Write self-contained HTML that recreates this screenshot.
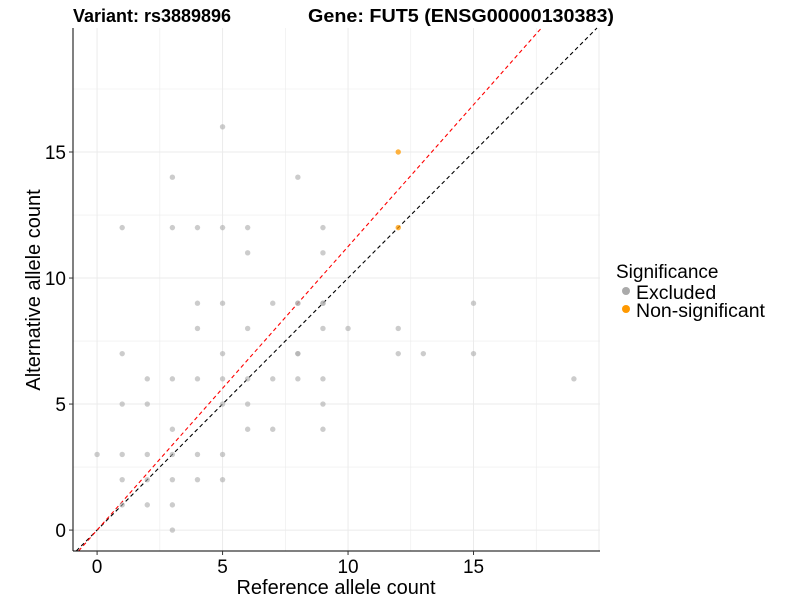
<!DOCTYPE html>
<html><head><meta charset="utf-8"><style>
body{margin:0;background:#fff;}
svg text{font-family:"Liberation Sans",Arial,sans-serif;}
</style></head><body>
<svg id="chart" width="800" height="600" xmlns="http://www.w3.org/2000/svg">
<g id="grid"></g>
<g id="refl"></g>
<g id="pts"></g>
<g id="axes"></g>
<text x="73" y="22" font-size="18.5" font-weight="bold" textLength="158" lengthAdjust="spacingAndGlyphs">Variant: rs3889896</text>
<text x="308" y="22" font-size="18.5" font-weight="bold" textLength="306" lengthAdjust="spacingAndGlyphs">Gene: FUT5 (ENSG00000130383)</text>
<text x="336" y="594" font-size="20" text-anchor="middle">Reference allele count</text>
<text transform="translate(40,290) rotate(-90)" font-size="20" text-anchor="middle">Alternative allele count</text>
<g>
<text x="616" y="278" font-size="19">Significance</text>
<circle cx="626" cy="291" r="4" fill="#aaaaaa"/>
<text x="636" y="299" font-size="19.5">Excluded</text>
<circle cx="626" cy="309" r="4" fill="#ff9900"/>
<text x="636" y="317" font-size="19.5">Non-significant</text>
</g>
</svg>
<script>
const refCounts = [5,3,8,1,3,4,5,6,9,6,9,4,5,7,8,9,4,6,9,10,1,5,8,2,3,4,5,6,7,8,9,1,2,5,6,9,3,6,7,9,0,1,2,3,4,5,1,2,3,4,5,1,2,3,3,8,9,15,12,8,12,13,15,19];
const altCounts = [16,14,14,12,12,12,12,12,12,11,11,9,9,9,9,9,8,8,8,8,7,7,7,6,6,6,6,6,6,6,6,5,5,5,5,5,4,4,4,4,3,3,3,3,3,3,2,2,2,2,2,1,1,1,0,9,9,9,8,7,7,7,7,6];
const sigRef = [12,12];
const sigAlt = [15,12];
const xTicks = [0,5,10,15];
const yTicks = [0,5,10,15];
const xMin=-0.96,xMax=20.04,yMin=-0.83,yMax=19.92;
const L=73,R=600,T=28,B=551;
const sx=v=>L+(v-xMin)/(xMax-xMin)*(R-L);
const sy=v=>B-(v-yMin)/(yMax-yMin)*(B-T);
const NS="http://www.w3.org/2000/svg";
function mk(tag,attrs,parent){const e=document.createElementNS(NS,tag);for(const k in attrs)e.setAttribute(k,attrs[k]);parent.appendChild(e);return e;}
const grid=document.getElementById('grid');
for(let v=0;v<=20;v+=2.5){const x=sx(v);if(x>R)break;const l=mk('line',{x1:x,x2:x,y1:T,y2:B,stroke:'#ebebeb','stroke-width':v%5?0.6:1},grid);

}
for(let v=0;v<=20;v+=2.5){const y=sy(v);if(y<T)break;const l=mk('line',{x1:L,x2:R,y1:y,y2:y,stroke:'#ebebeb','stroke-width':v%5?0.6:1},grid);

}
const refl=document.getElementById('refl');
function abline(slope,color,name){
  let x0=Math.max(xMin,yMin/slope), x1=Math.min(xMax,yMax/slope);
  const l=mk('line',{x1:sx(x0),y1:sy(slope*x0),x2:sx(x1),y2:sy(slope*x1),stroke:color,'stroke-width':1.1,'stroke-dasharray':'4 3'},refl);
  
  
}
abline(1,'#000','identity-line');
abline(1.125,'#ff0000','ratio-line');
const pts=document.getElementById('pts');
refCounts.forEach((r,i)=>{const c=mk('circle',{cx:sx(r),cy:sy(altCounts[i]),r:2.7,fill:'#aaaaaa','fill-opacity':0.6},pts);

});
sigRef.forEach((r,i)=>{const c=mk('circle',{cx:sx(r),cy:sy(sigAlt[i]),r:2.7,fill:'#ff9900','fill-opacity':0.75},pts);

});
const axes=document.getElementById('axes');
mk('line',{x1:L,x2:L,y1:T,y2:B,stroke:'#000','stroke-width':1},axes);
mk('line',{x1:L,x2:R,y1:B,y2:B,stroke:'#000','stroke-width':1},axes);
xTicks.forEach(v=>{const x=sx(v);mk('line',{x1:x,x2:x,y1:B,y2:B+4,stroke:'#333'},axes);
const t=mk('text',{x:x,y:B+22,'font-size':19,'text-anchor':'middle',fill:'#000'},axes);t.textContent=v;

});
yTicks.forEach(v=>{const y=sy(v);mk('line',{x1:L-4,x2:L,y1:y,y2:y,stroke:'#333'},axes);
const t=mk('text',{x:L-7,y:y+7,'font-size':19,'text-anchor':'end',fill:'#000'},axes);t.textContent=v;

});
</script>
</body></html>
